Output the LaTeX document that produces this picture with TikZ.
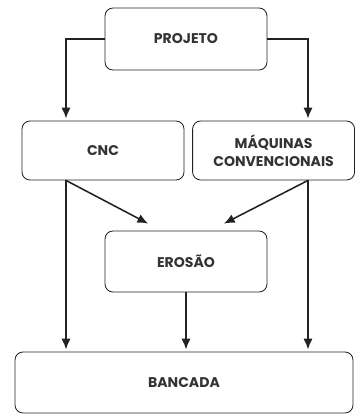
\documentclass[tikz,border=0pt]{standalone}
\usepackage{fontspec}
\setmainfont{Poppins}
\usetikzlibrary{arrows.meta,positioning}
\definecolor{linie}{HTML}{222222}
\definecolor{schrift}{HTML}{333333}
\tikzset{
  kasten/.style={draw=linie,line width=0.6pt,rounded corners=0.2cm,align=center,
    text=schrift,font=\fontsize{10}{13}\selectfont\bfseries,
    minimum width=4.05cm,minimum height=1.5cm,inner sep=0pt},
  pfeil/.style={draw=linie,line width=1.1pt,-{Latex[length=2.7mm,width=2.3mm]},shorten >=1.5pt}
}
\begin{document}
\begin{tikzpicture}
\useasboundingbox (0,0) rectangle (8.875,-10.35);
\node[kasten,minimum height=1.55cm] (projeto) at (4.65,-0.975) {PROJETO};
\node[kasten,minimum height=1.475cm] (cnc) at (2.575,-3.7625) {CNC};
\node[kasten,minimum height=1.475cm] (maquinas) at (6.84,-3.7625) {MÁQUINAS\\CONVENCIONAIS};
\node[kasten,minimum height=1.525cm] (erosao) at (4.65,-6.5375) {EROSÃO};
\node[kasten,minimum width=8.45cm,minimum height=1.525cm] (bancada) at (4.6,-9.5625) {BANCADA};

\draw[pfeil] (projeto.west) -| ([xshift=-0.925cm]cnc.north);
\draw[pfeil] (projeto.east) -| ([xshift=0.86cm]maquinas.north);
\draw[pfeil] ([xshift=-0.925cm]cnc.south) -- ([xshift=-0.925cm]cnc.south |- bancada.north);
\draw[pfeil] ([xshift=-0.925cm]cnc.south) -- ([xshift=-0.9cm,yshift=0.15cm]erosao.north);
\draw[pfeil] ([xshift=0.86cm]maquinas.south) -- ([xshift=0.9cm,yshift=0.15cm]erosao.north);
\draw[pfeil] ([xshift=0.86cm]maquinas.south) -- ([xshift=0.86cm]maquinas.south |- bancada.north);
\draw[pfeil] (erosao.south) -- (erosao.south |- bancada.north);
\end{tikzpicture}
\end{document}
